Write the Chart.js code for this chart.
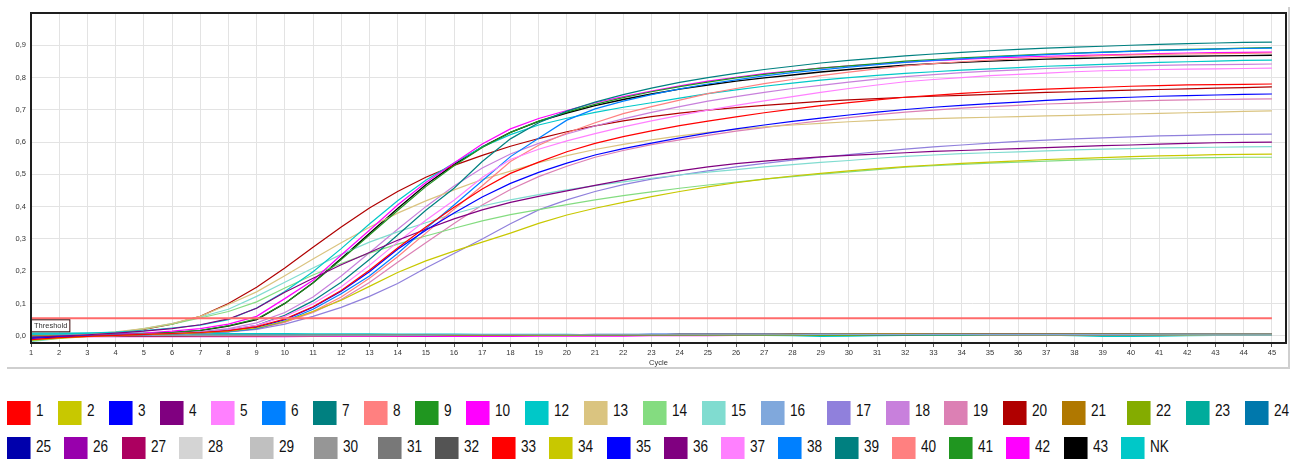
<!DOCTYPE html>
<html><head><meta charset="utf-8">
<script src="https://cdn.jsdelivr.net/npm/chart.js@4.4.1/dist/chart.umd.min.js"></script>
<style>
html,body{margin:0;padding:0;background:#fff;width:1304px;height:459px;overflow:hidden;}
#wrap{position:absolute;left:0;top:0;width:1304px;height:372px;}
#frame{position:absolute;left:7px;top:7px;width:1281px;height:360px;border-right:2px solid #cfcfcf;border-bottom:2px solid #cfcfcf;}
.item{position:absolute;height:24px;white-space:nowrap;}
.sw{position:absolute;left:0;top:0;width:24px;height:24px;box-shadow:inset -1px 0 0 rgba(255,255,255,0.45);}
.lb{position:absolute;left:29px;top:1px;font-size:17px;line-height:18px;font-family:"Liberation Sans",Arial,sans-serif;color:#111;transform:scaleX(0.8);transform-origin:0 0;}
</style></head>
<body>
<div id="frame"></div>
<div id="wrap"><canvas id="c" width="1304" height="372"></canvas></div>
<div id="legend"></div>
<script>
const cycles = [1,2,3,4,5,6,7,8,9,10,11,12,13,14,15,16,17,18,19,20,21,22,23,24,25,26,27,28,29,30,31,32,33,34,35,36,37,38,39,40,41,42,43,44,45];
const THRESHOLD = 0.054;

const s1 = [-0.012,-0.006,-0.002,0.001,0.004,0.007,0.010,0.016,0.028,0.052,0.090,0.140,0.203,0.272,0.337,0.398,0.455,0.503,0.538,0.570,0.596,0.617,0.635,0.651,0.665,0.678,0.691,0.702,0.713,0.722,0.731,0.739,0.745,0.751,0.756,0.760,0.764,0.767,0.770,0.773,0.775,0.777,0.778,0.779,0.780];
const s2 = [-0.014,-0.008,-0.003,0.000,0.003,0.006,0.009,0.014,0.024,0.045,0.075,0.110,0.153,0.196,0.232,0.262,0.290,0.318,0.348,0.374,0.395,0.413,0.431,0.447,0.461,0.474,0.485,0.495,0.503,0.511,0.518,0.524,0.529,0.534,0.538,0.542,0.546,0.549,0.552,0.555,0.557,0.559,0.561,0.562,0.563];
const s3 = [-0.008,-0.004,-0.001,0.001,0.003,0.006,0.009,0.015,0.026,0.050,0.088,0.138,0.198,0.268,0.327,0.380,0.430,0.472,0.506,0.535,0.560,0.580,0.597,0.613,0.628,0.641,0.653,0.664,0.674,0.684,0.693,0.701,0.708,0.714,0.719,0.724,0.729,0.733,0.736,0.739,0.742,0.744,0.746,0.748,0.749];
const s4 = [-0.005,-0.001,0.003,0.008,0.014,0.022,0.034,0.052,0.085,0.135,0.178,0.220,0.258,0.296,0.330,0.362,0.390,0.413,0.432,0.449,0.466,0.482,0.497,0.511,0.523,0.533,0.541,0.548,0.554,0.559,0.563,0.567,0.571,0.574,0.577,0.580,0.583,0.586,0.589,0.591,0.594,0.596,0.598,0.599,0.600];
const s5 = [-0.010,-0.005,-0.002,0.001,0.004,0.007,0.011,0.018,0.032,0.060,0.099,0.152,0.218,0.290,0.358,0.420,0.490,0.546,0.578,0.604,0.626,0.647,0.666,0.683,0.699,0.714,0.728,0.741,0.754,0.766,0.777,0.787,0.794,0.800,0.806,0.810,0.814,0.818,0.821,0.823,0.825,0.826,0.827,0.828,0.829];
const s6 = [-0.005,-0.003,-0.001,0.001,0.003,0.006,0.009,0.013,0.022,0.045,0.082,0.130,0.185,0.255,0.332,0.405,0.480,0.555,0.612,0.668,0.703,0.727,0.747,0.765,0.780,0.793,0.805,0.815,0.824,0.832,0.840,0.847,0.853,0.858,0.863,0.867,0.871,0.875,0.878,0.881,0.884,0.886,0.888,0.890,0.891];
const s7 = [-0.004,-0.002,0.000,0.002,0.004,0.007,0.011,0.018,0.032,0.063,0.108,0.166,0.236,0.312,0.389,0.457,0.540,0.610,0.660,0.696,0.724,0.747,0.767,0.785,0.800,0.813,0.825,0.835,0.845,0.853,0.860,0.867,0.873,0.878,0.883,0.887,0.891,0.894,0.897,0.900,0.903,0.905,0.907,0.909,0.910];
const s8 = [-0.004,-0.002,0.000,0.002,0.004,0.006,0.009,0.013,0.022,0.042,0.075,0.120,0.178,0.245,0.318,0.392,0.465,0.540,0.590,0.628,0.660,0.688,0.710,0.730,0.750,0.766,0.781,0.794,0.806,0.817,0.827,0.836,0.843,0.849,0.854,0.858,0.862,0.865,0.868,0.870,0.872,0.873,0.874,0.875,0.876];
const s9 = [-0.006,-0.003,0.000,0.003,0.006,0.010,0.017,0.031,0.052,0.100,0.163,0.236,0.312,0.388,0.462,0.527,0.583,0.630,0.665,0.693,0.717,0.738,0.756,0.772,0.786,0.799,0.810,0.820,0.829,0.836,0.843,0.851,0.856,0.861,0.865,0.869,0.873,0.876,0.879,0.882,0.885,0.887,0.889,0.891,0.893];
const s10 = [-0.005,-0.002,0.001,0.004,0.008,0.014,0.022,0.036,0.060,0.115,0.172,0.250,0.327,0.405,0.475,0.535,0.594,0.641,0.673,0.698,0.722,0.741,0.758,0.774,0.789,0.801,0.812,0.821,0.829,0.836,0.842,0.848,0.852,0.856,0.860,0.863,0.866,0.868,0.870,0.872,0.874,0.876,0.877,0.878,0.879];
const s12 = [0.005,0.006,0.008,0.011,0.016,0.024,0.033,0.050,0.086,0.137,0.198,0.270,0.346,0.418,0.482,0.535,0.585,0.623,0.653,0.674,0.692,0.708,0.722,0.736,0.750,0.762,0.773,0.783,0.792,0.800,0.807,0.813,0.818,0.823,0.827,0.831,0.835,0.838,0.841,0.844,0.847,0.849,0.851,0.853,0.854];
const s13 = [-0.010,-0.003,0.004,0.012,0.022,0.038,0.060,0.097,0.136,0.186,0.238,0.288,0.336,0.380,0.418,0.452,0.484,0.510,0.536,0.558,0.577,0.593,0.607,0.619,0.630,0.639,0.647,0.653,0.658,0.663,0.667,0.671,0.673,0.675,0.677,0.679,0.681,0.683,0.685,0.687,0.689,0.691,0.693,0.695,0.697];
const s14 = [-0.016,-0.007,0.002,0.010,0.021,0.036,0.055,0.075,0.105,0.148,0.188,0.224,0.256,0.284,0.309,0.333,0.356,0.375,0.391,0.406,0.421,0.434,0.446,0.457,0.467,0.476,0.485,0.493,0.501,0.508,0.515,0.522,0.527,0.531,0.535,0.538,0.541,0.544,0.546,0.548,0.550,0.551,0.552,0.553,0.553];
const s15 = [-0.018,-0.008,0.001,0.010,0.022,0.038,0.058,0.082,0.122,0.166,0.210,0.252,0.290,0.322,0.350,0.378,0.402,0.421,0.437,0.452,0.465,0.477,0.488,0.498,0.507,0.515,0.523,0.530,0.537,0.543,0.550,0.556,0.560,0.564,0.567,0.570,0.573,0.576,0.578,0.580,0.582,0.583,0.584,0.585,0.586];
const s16 = [0.003,0.003,0.003,0.003,0.002,0.002,0.002,0.002,0.002,0.002,0.002,0.002,0.002,0.002,0.002,0.003,0.003,0.003,0.003,0.003,0.003,0.003,0.003,0.003,0.003,0.003,0.003,0.003,0.004,0.004,0.004,0.004,0.004,0.004,0.004,0.004,0.004,0.004,0.004,0.004,0.005,0.005,0.005,0.005,0.005];
const s17 = [-0.006,-0.003,-0.001,0.001,0.003,0.005,0.008,0.012,0.020,0.036,0.060,0.088,0.122,0.162,0.210,0.255,0.300,0.347,0.390,0.421,0.447,0.468,0.485,0.498,0.511,0.523,0.534,0.544,0.553,0.561,0.570,0.578,0.585,0.591,0.597,0.602,0.606,0.610,0.613,0.616,0.619,0.621,0.623,0.624,0.625];
const s18 = [-0.012,-0.006,-0.002,0.001,0.004,0.008,0.013,0.022,0.040,0.072,0.120,0.185,0.257,0.330,0.400,0.464,0.520,0.563,0.596,0.625,0.650,0.672,0.692,0.710,0.727,0.741,0.754,0.766,0.776,0.786,0.795,0.803,0.809,0.815,0.820,0.824,0.828,0.831,0.834,0.836,0.838,0.839,0.840,0.841,0.842];
const s19 = [-0.010,-0.005,-0.002,0.000,0.002,0.005,0.008,0.013,0.022,0.042,0.072,0.112,0.165,0.228,0.288,0.348,0.405,0.453,0.493,0.525,0.553,0.574,0.592,0.607,0.621,0.634,0.645,0.656,0.666,0.676,0.685,0.693,0.699,0.705,0.710,0.714,0.718,0.721,0.724,0.727,0.729,0.731,0.732,0.733,0.734];
const s20 = [-0.015,-0.006,0.002,0.010,0.020,0.036,0.060,0.100,0.150,0.210,0.274,0.337,0.396,0.447,0.491,0.528,0.559,0.587,0.611,0.632,0.650,0.666,0.679,0.690,0.699,0.707,0.714,0.720,0.726,0.731,0.735,0.739,0.742,0.745,0.748,0.751,0.754,0.756,0.759,0.761,0.763,0.765,0.767,0.769,0.771];
const s21 = [0.001,0.001,0.001,0.001,0.001,0.001,0.001,0.001,0.001,0.001,0.002,0.002,0.002,0.002,0.002,0.002,0.002,0.002,0.003,0.003,0.003,0.003,0.003,0.004,0.004,0.004,0.004,0.005,0.005,0.006,0.007,0.007,0.006,0.006,0.006,0.006,0.006,0.006,0.006,0.006,0.006,0.006,0.006,0.006,0.006];
const s22 = [-0.001,-0.001,0.000,0.000,0.000,0.000,0.000,0.000,0.000,0.000,0.000,0.001,0.001,0.001,0.001,0.001,0.001,0.001,0.001,0.001,0.002,0.002,0.002,0.002,0.002,0.002,0.002,0.002,0.002,0.002,0.003,0.003,0.003,0.003,0.003,0.003,0.003,0.003,0.003,0.003,0.003,0.003,0.004,0.004,0.004];
const s23 = [0.004,0.004,0.004,0.004,0.004,0.004,0.004,0.003,0.003,0.003,0.003,0.003,0.003,0.003,0.003,0.003,0.003,0.003,0.003,0.003,0.003,0.003,0.003,0.003,0.003,0.003,0.002,0.002,0.002,0.002,0.002,0.002,0.002,0.002,0.003,0.003,0.003,0.003,0.003,0.003,0.003,0.003,0.003,0.003,0.003];
const s24 = [0.002,0.002,0.002,0.002,0.002,0.002,0.002,0.002,0.002,0.002,0.002,0.002,0.002,0.002,0.002,0.002,0.003,0.003,0.003,0.003,0.004,0.004,0.004,0.004,0.004,0.004,0.004,0.004,0.004,0.004,0.004,0.004,0.004,0.004,0.004,0.004,0.005,0.005,0.005,0.005,0.005,0.005,0.005,0.005,0.005];
const s25 = [0.001,0.001,0.001,0.001,0.001,0.001,0.001,0.001,0.001,0.001,0.001,0.001,0.002,0.002,0.002,0.002,0.002,0.002,0.002,0.003,0.003,0.003,0.003,0.004,0.004,0.004,0.004,0.004,0.004,0.004,0.004,0.004,0.004,0.004,0.005,0.005,0.005,0.005,0.005,0.005,0.005,0.005,0.005,0.005,0.005];
const s26 = [0.000,0.000,0.000,0.000,0.000,0.000,0.000,0.001,0.001,0.001,0.001,0.001,0.001,0.001,0.001,0.001,0.001,0.002,0.002,0.002,0.002,0.002,0.002,0.002,0.003,0.003,0.003,0.003,0.003,0.003,0.004,0.004,0.004,0.004,0.004,0.005,0.005,0.005,0.005,0.005,0.006,0.006,0.006,0.006,0.006];
const s27 = [-0.002,-0.002,-0.001,-0.001,-0.001,-0.001,0.000,0.000,0.000,0.000,0.000,0.000,0.000,0.000,0.000,0.001,0.001,0.001,0.001,0.001,0.001,0.001,0.001,0.001,0.002,0.002,0.002,0.002,0.002,0.002,0.002,0.002,0.003,0.003,0.003,0.003,0.003,0.003,0.003,0.003,0.003,0.004,0.004,0.004,0.004];
const s28 = [0.002,0.002,0.002,0.002,0.002,0.002,0.002,0.002,0.002,0.002,0.002,0.002,0.002,0.002,0.002,0.002,0.002,0.002,0.002,0.002,0.002,0.002,0.002,0.002,0.002,0.002,0.002,0.002,0.002,0.002,0.002,0.003,0.003,0.003,0.003,0.003,0.003,0.003,0.003,0.003,0.003,0.003,0.003,0.003,0.003];
const s29 = [0.001,0.001,0.001,0.001,0.001,0.001,0.001,0.001,0.001,0.001,0.001,0.001,0.001,0.001,0.001,0.001,0.001,0.001,0.001,0.001,0.002,0.002,0.002,0.002,0.002,0.002,0.002,0.002,0.002,0.002,0.002,0.002,0.002,0.002,0.002,0.002,0.002,0.002,0.002,0.002,0.002,0.002,0.002,0.002,0.002];
const s30 = [0.000,0.000,0.000,0.000,0.000,0.001,0.001,0.001,0.001,0.001,0.001,0.001,0.001,0.001,0.001,0.001,0.001,0.001,0.001,0.002,0.002,0.002,0.002,0.002,0.002,0.002,0.002,0.002,0.003,0.003,0.003,0.003,0.003,0.003,0.003,0.003,0.003,0.003,0.003,0.003,0.004,0.004,0.004,0.004,0.004];
const s31 = [0.002,0.002,0.002,0.002,0.002,0.002,0.002,0.002,0.002,0.002,0.002,0.002,0.002,0.002,0.002,0.002,0.002,0.002,0.002,0.002,0.002,0.002,0.002,0.002,0.003,0.003,0.003,0.003,0.003,0.003,0.003,0.003,0.003,0.003,0.003,0.003,0.003,0.003,0.003,0.003,0.003,0.003,0.003,0.003,0.003];
const s32 = [0.001,0.001,0.001,0.001,0.001,0.001,0.001,0.001,0.001,0.001,0.001,0.001,0.001,0.001,0.001,0.001,0.001,0.001,0.001,0.001,0.001,0.001,0.001,0.002,0.002,0.002,0.002,0.002,0.002,0.002,0.002,0.002,0.002,0.002,0.002,0.002,0.002,0.002,0.002,0.002,0.002,0.002,0.002,0.002,0.002];
const s33 = [0.000,0.000,0.000,0.000,0.000,0.000,0.000,0.000,0.000,0.001,0.001,0.001,0.001,0.001,0.001,0.001,0.001,0.001,0.001,0.001,0.001,0.001,0.002,0.002,0.002,0.002,0.002,0.002,0.002,0.002,0.002,0.002,0.002,0.003,0.003,0.003,0.003,0.003,0.003,0.003,0.003,0.003,0.003,0.003,0.003];
const s34 = [0.001,0.001,0.001,0.001,0.001,0.001,0.001,0.001,0.001,0.001,0.001,0.001,0.001,0.001,0.001,0.001,0.001,0.001,0.002,0.002,0.002,0.002,0.002,0.002,0.002,0.002,0.003,0.003,0.003,0.003,0.004,0.004,0.004,0.004,0.004,0.004,0.004,0.004,0.004,0.004,0.004,0.004,0.004,0.004,0.004];
const s35 = [0.000,0.000,0.000,0.000,0.001,0.001,0.001,0.001,0.001,0.001,0.001,0.001,0.001,0.002,0.002,0.002,0.002,0.002,0.002,0.003,0.003,0.003,0.004,0.004,0.004,0.004,0.004,0.004,0.004,0.004,0.004,0.004,0.004,0.004,0.005,0.005,0.005,0.005,0.005,0.005,0.005,0.006,0.006,0.006,0.006];
const s36 = [0.000,0.000,0.000,0.000,0.000,0.000,0.001,0.001,0.001,0.001,0.001,0.001,0.001,0.001,0.002,0.002,0.002,0.002,0.002,0.002,0.002,0.003,0.003,0.003,0.003,0.003,0.003,0.004,0.004,0.004,0.004,0.004,0.005,0.005,0.005,0.005,0.005,0.006,0.006,0.006,0.006,0.006,0.007,0.007,0.007];
const s37 = [-0.001,-0.001,-0.001,0.000,0.000,0.000,0.000,0.000,0.000,0.000,0.000,0.000,0.000,0.001,0.001,0.001,0.001,0.001,0.001,0.001,0.001,0.001,0.001,0.001,0.002,0.002,0.002,0.002,0.002,0.002,0.002,0.002,0.002,0.002,0.003,0.003,0.003,0.003,0.003,0.003,0.003,0.003,0.003,0.003,0.003];
const s38 = [0.001,0.001,0.001,0.001,0.001,0.001,0.001,0.001,0.002,0.002,0.002,0.002,0.002,0.002,0.002,0.002,0.002,0.002,0.002,0.003,0.003,0.003,0.003,0.003,0.003,0.003,0.003,0.003,0.003,0.003,0.003,0.004,0.004,0.004,0.004,0.004,0.004,0.004,0.004,0.004,0.004,0.005,0.005,0.005,0.005];
const s39 = [0.002,0.002,0.002,0.002,0.002,0.002,0.002,0.002,0.002,0.002,0.002,0.002,0.002,0.002,0.002,0.002,0.002,0.002,0.002,0.002,0.002,0.002,0.002,0.002,0.002,0.002,0.002,0.002,0.002,0.002,0.002,0.002,0.002,0.002,0.002,0.003,0.003,0.003,0.003,0.003,0.003,0.003,0.003,0.003,0.003];
const s40 = [0.000,0.000,0.000,0.000,0.000,0.000,0.000,0.000,0.000,0.000,0.000,0.000,0.000,0.000,0.001,0.001,0.001,0.001,0.001,0.001,0.001,0.001,0.001,0.001,0.001,0.001,0.001,0.002,0.002,0.002,0.002,0.002,0.002,0.002,0.002,0.002,0.002,0.002,0.002,0.002,0.003,0.003,0.003,0.003,0.003];
const s41 = [0.001,0.001,0.001,0.001,0.001,0.001,0.001,0.001,0.001,0.001,0.001,0.001,0.001,0.001,0.001,0.001,0.001,0.001,0.001,0.001,0.001,0.001,0.001,0.001,0.001,0.001,0.002,0.002,0.002,0.002,0.002,0.002,0.002,0.002,0.002,0.002,0.002,0.002,0.002,0.002,0.002,0.002,0.002,0.002,0.002];
const s42 = [-0.003,-0.003,-0.003,-0.003,-0.003,-0.003,-0.003,-0.003,-0.003,-0.003,-0.002,-0.002,-0.002,-0.002,-0.002,-0.002,-0.002,-0.002,-0.001,-0.001,-0.001,-0.001,0.000,0.000,0.000,0.001,0.001,0.002,0.002,0.003,0.003,0.004,0.004,0.004,0.004,0.005,0.005,0.005,0.005,0.005,0.006,0.006,0.006,0.006,0.007];
const s43 = [-0.008,-0.004,0.000,0.003,0.006,0.010,0.016,0.030,0.050,0.100,0.164,0.239,0.317,0.394,0.468,0.530,0.585,0.630,0.664,0.690,0.713,0.732,0.749,0.764,0.777,0.789,0.799,0.808,0.817,0.825,0.832,0.838,0.843,0.847,0.851,0.854,0.857,0.859,0.861,0.863,0.865,0.866,0.867,0.868,0.869];
const sNK = [0.008,0.008,0.008,0.008,0.008,0.008,0.007,0.007,0.007,0.007,0.006,0.006,0.006,0.005,0.005,0.005,0.004,0.004,0.004,0.004,0.003,0.003,0.003,0.002,0.002,0.002,0.001,0.000,-0.002,-0.001,0.000,0.001,0.002,0.002,0.003,0.003,0.002,0.000,-0.002,-0.002,-0.001,0.000,0.001,0.002,0.002];

const sampleNames = ['1','2','3','4','5','6','7','8','9','10','12','13','14','15','16','17','18','19','20','21','22','23','24','25','26','27','28','29','30','31','32','33','34','35','36','37','38','39','40','41','42','43','NK'];
const sampleValues = [s1,s2,s3,s4,s5,s6,s7,s8,s9,s10,s12,s13,s14,s15,s16,s17,s18,s19,s20,s21,s22,s23,s24,s25,s26,s27,s28,s29,s30,s31,s32,s33,s34,s35,s36,s37,s38,s39,s40,s41,s42,s43,sNK];
const yTickLabels = ['0,0','0,1','0,2','0,3','0,4','0,5','0,6','0,7','0,8','0,9'];

// styles (kept apart from the data)
const sampleColors = ['#ff0000','#c8c800','#0000ff','#800080','#ff80ff','#0080ff','#008080','#ff8080','#209620','#ff00ff','#00c8c8','#dac480','#84dc80','#80dcd0','#80a8dc','#9080dc','#c880dc','#dc80b4','#b00000','#b07800','#84ac00','#00ac9c','#0078ac','#0000ac','#9800ac','#ac0060','#d4d4d4','#c0c0c0','#969696','#787878','#545454','#ff0000','#c8c800','#0000ff','#800080','#ff80ff','#0080ff','#008080','#ff8080','#209620','#ff00ff','#000000','#00c8c8'];
const legendRows = [23, 20];
const legendRowTop = [401, 437];
const legendX = [7,58,109,160,211,262,313,364,415,466,525,584,643,702,761,827,886,944,1003,1062,1127,1186,1245,
                 7,64,122,179,250,314,378,435,492,549,607,664,721,778,835,892,949,1006,1064,1121];

// legend (HTML text)
const leg = document.getElementById('legend');
sampleNames.forEach((n, i) => {
  const row = i < legendRows[0] ? 0 : 1;
  const d = document.createElement('div');
  d.className = 'item';
  d.style.left = legendX[i] + 'px';
  d.style.top = legendRowTop[row] + 'px';
  d.innerHTML = '<div class="sw" style="background:' + sampleColors[i] + '"></div><span class="lb">' + n + '</span>';
  leg.appendChild(d);
});

const datasets = [{
  label: 'Threshold',
  data: [{x: cycles[0], y: THRESHOLD}, {x: cycles[cycles.length - 1], y: THRESHOLD}],
  borderColor: '#ff6b6b', borderWidth: 2, order: -1
}];
sampleNames.forEach((n, i) => {
  datasets.push({
    label: n,
    data: cycles.map((c, k) => ({x: c, y: sampleValues[i][k]})),
    borderColor: sampleColors[i],
    borderWidth: n === '43' ? 1.4 : 1.2
  });
});

const tickFont = {family: '"Liberation Sans", Arial, sans-serif', size: 7.5};
const framePlugin = {
  id: 'frame',
  afterDatasetsDraw(chart) {
    const {ctx, chartArea: a} = chart;
    ctx.save();
    const yT = chart.scales.y.getPixelForValue(THRESHOLD);
    ctx.font = '7.5px "Liberation Sans", Arial, sans-serif';
    const w = ctx.measureText('Threshold').width + 5;
    ctx.fillStyle = '#fff';
    ctx.fillRect(a.left, yT + 1, w, 12);
    ctx.strokeStyle = '#3a0a0a';
    ctx.lineWidth = 1;
    ctx.strokeRect(a.left + 0.5, yT + 1.5, w, 12);
    ctx.fillStyle = '#333';
    ctx.textBaseline = 'middle';
    ctx.fillText('Threshold', a.left + 3, yT + 7.8);
    ctx.strokeStyle = '#1e1e1e';
    ctx.lineWidth = 2;
    ctx.strokeRect(a.left, a.top, a.right - a.left, a.bottom - a.top);
    ctx.restore();
  }
};

new Chart(document.getElementById('c'), {
  type: 'line',
  data: {datasets},
  plugins: [framePlugin],
  options: {
    responsive: false, animation: false, devicePixelRatio: 1,
    layout: {padding: {left: 0, right: 18, top: 13, bottom: 0}},
    plugins: {legend: {display: false}, tooltip: {enabled: false}},
    elements: {point: {radius: 0}, line: {tension: 0}},
    scales: {
      x: {
        type: 'linear', min: 1, max: 45.5,
        afterFit(s) { s.height = 29; },
        grid: {color: '#e3e3e3', lineWidth: 1, drawTicks: true, tickLength: 4, tickColor: '#555'},
        border: {display: false},
        ticks: {stepSize: 1, includeBounds: false, autoSkip: false, maxRotation: 0, padding: 1, color: '#333', font: tickFont},
        title: {display: true, text: 'Cycle', color: '#333', font: tickFont, padding: {top: 0, bottom: 5}}
      },
      y: {
        min: -0.0225, max: 1.0,
        afterFit(s) { s.width = 31; },
        grid: {color: '#e3e3e3', lineWidth: 1, drawTicks: false},
        border: {display: false},
        ticks: {
          stepSize: 0.1, includeBounds: false, padding: 5, color: '#333', font: tickFont,
          callback(v) { const k = Math.round(v * 10); return (k >= 0 && k < yTickLabels.length) ? yTickLabels[k] : ''; }
        }
      }
    }
  }
});
</script>
</body></html>
